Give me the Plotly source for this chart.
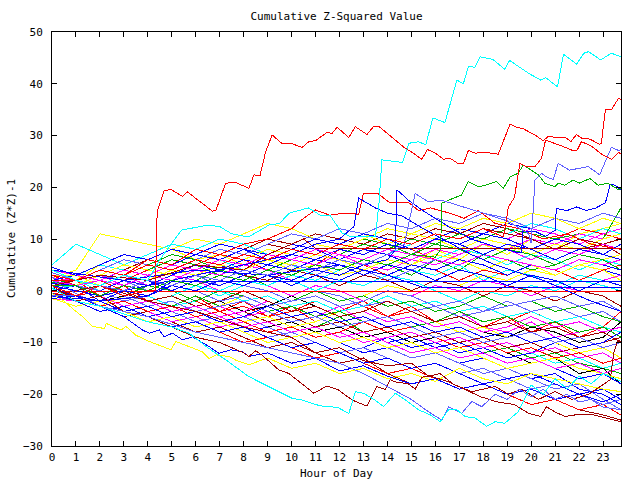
import plotly.graph_objects as go

# ---------------- data ----------------
HOURS = [0, 1, 2, 3, 4, 5, 6, 7, 8, 9, 10, 11, 12, 13, 14, 15, 16, 17, 18, 19, 20, 21, 22, 23, 23.75]
X_TICKS = list(range(0, 24))
Y_TICKS = [-30, -20, -10, 0, 10, 20, 30, 40, 50]

COLORS = {
    "red": "#ff0000", "green": "#00b000", "blue": "#0000ff", "magenta": "#ff00ff",
    "cyan": "#00ffff", "darkred": "#a00000", "yellow": "#ffff00", "black": "#000000",
    "peri": "#6060ff",
}

# hourly series (values at HOURS)
RED_SERIES = [
    [1, 2, -1, 1, -2, -3, -1, -4, -2, -5, -3, -6, -4, -2, -5, -3, -6, -4, -7, -5, -8, -6, -9, -7, -8],
    [2, 1, 3, 2, 4, 6, 5, 7, 6, 4, 6, 5, 8, 7, 9, 8, 6, 8, 7, 9, 8, 10, 12, 11, 10],
    [-1, -1, 0, -2, -1, -3, -2, -4, -3, -5, -4, -2, -4, -3, -5, -4, -6, -5, -7, -6, -4, -6, -5, -7, -4],
    [0.5, -2, -4, -3, -5, -7, -6, -8, -10, -9, -11, -13, -12, -14, -16, -15, -17, -19, -18, -20, -22, -21, -23, -22, -24],
    [3, 1, 2, 0, 2, 1, 3, 2, 4, 3, 5, 4, 6, 5, 3, 5, 4, 2, 4, 3, 5, 4, 2, 4, 5],
    [-0.5, -1, -3, -2, -4, -3, -5, -4, -6, -8, -7, -9, -8, -6, -8, -7, -9, -11, -10, -12, -11, -13, -12, -14, -13],
]
GREEN_SERIES = [
    [0.5, -1, 1, 3, 2, 0, 2, 4, 3, 1, 3, 5, 4, 6, 5, 3, 6, 4, 7, 6, 4, 5, 7, 6, 5],
    [-1, -2, -1, -3, -5, -4, -6, -5, -7, -6, -8, -7, -5, -8, -10, -9, -11, -10, -12, -11, -13, -12, -14, -15, -16],
    [2, 1, 3, 5, 4, 6, 5, 3, 5, 4, 6, 8, 7, 9, 8, 10, 9, 11, 10, 12, 11, 10, 11, 10, 16],
    [1.5, 2, 1, -1, 1, 0, -2, 0, -1, -3, -2, 0, -2, -1, -3, -2, -4, -3, -1, -3, -2, -4, -3, -5, -6],
    [-0.5, -1, -3, -2, -4, -3, -1, -3, -2, -4, -3, -5, -4, -6, -5, -7, -6, -4, -6, -5, -7, -6, -8, -7, -9],
    [3, 2, 4, 3, 5, 7, 6, 4, 6, 5, 7, 6, 8, 10, 9, 7, 9, 8, 6, 8, 7, 5, 7, 6, 4],
]
BLUE_SERIES = [
    [1, 1, -2, -4, -3, -5, -4, -6, -8, -7, -9, -8, -10, -12, -11, -13, -12, -14, -13, -15, -17, -16, -19, -20, -22],
    [3, 2, 4, 3, 5, 4, 6, 5, 3, 5, 4, 6, 8, 10, 9, 11, 10, 12, 11, 13, 12, 14, 13, 15, 14],
    [0, 1, -1, 0, -2, -1, -3, -5, -4, -6, -5, -7, -6, -8, -10, -9, -11, -10, -12, -14, -13, -15, -17, -16, -18],
    [-1.5, -2, -1, -3, -5, -4, -6, -8, -7, -9, -8, -10, -12, -11, -9, -11, -10, -12, -11, -13, -12, -10, -12, -11, -13],
    [2, 3, 2, 4, 3, 5, 7, 6, 8, 7, 9, 8, 6, 8, 7, 5, 7, 6, 4, 6, 5, 3, 5, 4, 3],
    [0.5, -1, 1, 0, 2, 1, 3, 2, 4, 3, 1, 3, 2, 4, 3, 5, 4, 6, 5, 3, 5, 4, 6, 5, 4],
    [1.5, 1, 0, 2, 1, 3, 5, 4, 6, 5, 7, 6, 8, 7, 9, 8, 10, 9, 11, 10, 8, 10, 9, 7, 6],
    [4, 2, 1, 3, 2, 0, 2, 1, 3, 5, 4, 6, 5, 3, 5, 4, 2, 4, 3, 1, 3, 2, 0, 2, 1],
    [-1, -1, -2, -4, -3, -5, -4, -6, -5, -3, -5, -4, -6, -5, -7, -6, -8, -7, -9, -8, -10, -9, -11, -10, -8],
    [-0.5, -2, -4, -3, -5, -7, -6, -8, -7, -9, -11, -10, -12, -14, -13, -15, -14, -16, -18, -17, -16, -18, -20, -19, -21],
    [4.5, 3, 5, 7, 6, 8, 7, 9, 8, 6, 8, 10, 9, 11, 10, 8, 10, 9, 7, 9, 8, 6, 8, 7, 9],
]
MAGENTA_SERIES = [
    [-1, -1, -2, -1, -3, -2, -4, -3, -5, -4, -6, -5, -3, -6, -5, -7, -6, -4, -7, -8, -6, -9, -8, -7, -9],
    [0.5, 1, 0, 2, 1, 3, 2, 0, 2, 1, 3, 5, 4, 6, 5, 7, 10, 9, 11, 10, 12, 11, 9, 11, 12],
    [2.5, 2, 3, 1, 3, 2, 4, 3, 5, 4, 2, 4, 3, 5, 4, 6, 5, 7, 9, 8, 10, 9, 11, 10, 11],
    [0, -1, -3, -2, -4, -6, -5, -7, -6, -8, -7, -9, -8, -10, -9, -8, -10, -9, -11, -10, -12, -11, -13, -12, -14],
    [3.5, 2, 4, 3, 1, 3, 2, 0, 2, 1, -1, 1, 0, -2, 0, -1, 1, 0, 2, 1, -1, 1, 0, 2, 3],
    [-1.5, -2, -1, -3, -2, -4, -3, -5, -4, -2, -4, -3, -5, -4, -6, -5, -7, -6, -8, -7, -5, -7, -6, -8, -7],
    [1, 1, 2, 4, 3, 5, 4, 6, 5, 7, 6, 8, 7, 5, 7, 6, 8, 7, 9, 8, 6, 8, 7, 9, 8],
    [2, 1, -1, -3, -2, -4, -3, -5, -7, -6, -8, -7, -9, -8, -10, -12, -11, -13, -12, -14, -13, -15, -14, -16, -15],
    [4, 3, 2, 1, 3, 2, 4, 6, 5, 7, 6, 5, 7, 6, 8, 7, 6, 5, 7, 6, 5, 4, 6, 5, 6],
]
CYAN_SERIES = [
    [2, 3, 5, 4, 6, 5, 7, 6, 4, 6, 5, 3, 5, 4, 2, 4, 3, 5, 2, 4, 3, 1, 3, 2, 3],
    [-1, -1, -3, -2, -4, -3, -5, -7, -6, -8, -7, -9, -8, -10, -9, -11, -10, -12, -11, -13, -12, -14, -13, -15, -14],
    [1, 2, 0, -2, -1, -3, -2, 0, -2, -1, -3, -2, -4, -3, -1, -3, -2, -4, -3, -5, -4, -6, -5, -7, -8],
    [5, 9, 7, 5, 7, 9, 8, 10, 9, 7, 9, 8, 6, 8, 7, 9, 11, 10, 12, 11, 13, 12, 10, 12, 11],
    [0.5, 1, -1, 0, -2, -1, 1, 0, 2, 1, 3, 2, 4, 6, 5, 7, 6, 8, 7, 5, 7, 6, 4, 6, 5],
    [-0.5, -2, -1, 1, 0, 2, 1, -1, 1, 3, 2, 0, 2, 1, 3, 2, 0, -2, 0, -1, 1, 0, 2, 1, 0],
]
DARKRED_SERIES = [
    [-0.5, -2, -3, -5, -4, -6, -8, -7, -9, -11, -10, -12, -14, -13, -16, -18, -17, -19, -18, -20, -22, -21, -23, -24, -25],
    [3, 3, 2, 4, 6, 5, 7, 6, 8, 10, 9, 11, 10, 9, 11, 10, 12, 11, 13, 12, 10, 9, 8, 9, 7],
    [1, 1, -1, -3, -2, -4, -3, -5, -4, -6, -5, -7, -6, -8, -7, -9, -8, -10, -9, -11, -10, -12, -11, -10, -9],
    [-1, -1, 1, 3, 2, 4, 6, 5, 7, 9, 8, 7, 9, 8, 10, 9, 11, 10, 12, 11, 10, 8, 10, 9, 10],
    [2, 2, 1, 3, 2, 0, 2, 1, 3, 2, 4, 3, 1, 3, 2, 0, 2, 1, -1, 1, 0, -2, 0, -1, -3],
    [0, -1, -2, 0, -2, -1, -3, -2, 0, -2, -4, -3, -5, -4, -2, -4, -6, -5, -7, -6, -8, -7, -9, -8, -10],
]
YELLOW_SERIES = [
    [2.5, 4, 11, 10, 9, 8, 6, 7, 5, 6, 4, 5, 3, 4, 6, 5, 8, 6, 9, 7, 10, 8, 11, 12, 13],
    [-1, -2, -3, -1, -3, -2, -4, -3, -1, -3, -2, 0, -2, -1, 1, 0, 2, 1, 3, 2, 4, 3, 5, 6, 7],
    [1.5, 2, 5, 7, 6, 8, 10, 9, 11, 13, 12, 10, 12, 11, 9, 11, 10, 8, 10, 9, 7, 9, 8, 10, 11],
    [0, -1, -3, -2, -4, -3, -5, -4, -6, -5, -7, -6, -4, -6, -5, -7, -6, -8, -7, -9, -8, -10, -12, -11, -13],
    [3, 3, 1, 3, 2, 4, 3, 5, 4, 6, 5, 7, 6, 4, 6, 5, 7, 6, 4, 6, 5, 3, 5, 4, 2],
    [1, 1, 3, 5, 4, 3, 5, 4, 6, 8, 7, 9, 8, 10, 12, 11, 13, 12, 14, 13, 15, 14, 12, 14, 13],
    [-1.5, -3, -2, -4, -6, -5, -7, -6, -8, -10, -9, -8, -10, -9, -11, -10, -12, -11, -13, -15, -14, -13, -15, -16, -17],
]
BLACK_SERIES = [
    [0.5, -1, 1, 0, -2, -1, -3, -2, -4, -3, -1, -3, -5, -4, -6, -5, -7, -6, -8, -9, -7, -8, -10, -9, -6],
    [-1, -1, -2, -1, -3, -2, -4, -6, -5, -7, -6, -8, -7, -9, -8, -10, -9, -11, -10, -12, -14, -13, -16, -15, -18],
]
PERI_SERIES = [
    [1.5, 2, 1, 3, 2, 4, 3, 1, 3, 2, 4, 3, 5, 4, 2, 4, 6, 5, 7, 9, 8, 10, 12, 14, 13],
    [0, -1, -2, -4, -3, -5, -4, -6, -5, -7, -9, -8, -10, -9, -11, -13, -12, -14, -16, -15, -17, -19, -18, -21, -23],
    [2.5, 1, 3, 2, 0, 2, 1, -1, 1, 0, -2, 0, -1, -3, -2, -4, -3, -5, -4, -2, -4, -3, -5, -4, -6],
    [-1, -2, -1, -3, -2, -4, -6, -5, -7, -9, -8, -10, -12, -11, -13, -15, -14, -16, -15, -17, -19, -18, -20, -22, -21],
    [3.5, 2, 4, 6, 5, 7, 6, 8, 7, 9, 11, 10, 12, 11, 13, 12, 14, 13, 15, 14, 12, 14, 13, 15, 14],
    [0.5, -1, 1, -1, -3, -2, -4, -3, -2, -4, -6, -5, -7, -6, -5, -7, -9, -8, -10, -9, -8, -10, -9, -11, -10],
    [1, 1, 0, -2, -1, 1, 0, -2, -1, -3, -2, -1, -3, -2, 0, -1, -3, -2, -4, -3, -2, -1, -3, -2, -4],
]

# individually traced series (hour, value)
CYAN_TOP_X = [0, 1, 2, 3, 4, 4.5, 5.4, 6.5, 7.0, 7.5, 8.2, 9.06, 9.5, 9.9, 10.7, 11.2, 11.6, 12.1, 12.5, 13.5,
              13.65, 13.77, 14.63, 14.9, 15.3, 15.6, 15.9, 16.4, 16.9, 17.17, 17.38, 17.66, 17.87, 18.4, 18.9,
              19.1, 19.9, 20.4, 20.6, 21.1, 21.35, 21.9, 22.2, 22.4, 22.9, 23.35, 23.75]
CYAN_TOP_Y = [4, 2, 1, 3, 2, 6, 11.7, 12.7, 12.4, 11, 10.4, 12.7, 13, 15, 16, 14.6, 14.6, 11.2, 10.4, 10.4,
              17, 25.3, 24.8, 28.5, 28.8, 28.2, 33.4, 32.5, 40.7, 40, 43.3, 43.2, 45.2, 44.7, 42.8,
              44.5, 42, 40.7, 41.2, 39.4, 45.7, 43.8, 45.9, 46.2, 44.6, 45.9, 45.2]

RED_TOP_X = [0, 1, 2, 3, 4, 4.31, 4.39, 4.68, 4.96, 5.45, 5.65, 6.69, 6.84, 7.25, 7.67, 8.22, 8.43, 8.68, 8.92,
             9.19, 9.61, 9.96, 10.44, 10.72, 11.0, 11.48, 11.69, 11.9, 12.39, 12.66, 13.15, 13.43, 13.63, 13.98,
             14.75, 14.95, 15.44, 15.67, 16.0, 16.34, 16.62, 16.97, 17.17, 17.38, 17.66, 18.14, 18.63, 19.12,
             19.33, 19.67, 20.16, 20.5, 20.71, 21.13, 21.41, 21.66, 21.89, 22.1, 22.45, 22.86, 22.93, 23.1,
             23.35, 23.65, 23.75]
RED_TOP_Y = [1, -1, 1, -1, 0, 0, 15.3, 19.3, 19.6, 18.2, 19.1, 15.4, 15.5, 20.8, 20.9, 19.8, 22.4, 22.2, 26.9,
             30.1, 28.4, 28.5, 27.7, 28.8, 29, 30.6, 30.4, 31.6, 29.6, 31.7, 30.2, 31.8, 31.8, 30.4,
             27.5, 27.0, 25.4, 27.3, 26.6, 25.4, 25.6, 24.5, 24.5, 27.1, 26.6, 26.7, 26.4, 32.2,
             31.7, 31.3, 30.1, 29, 29.8, 29.6, 29.7, 28.8, 30.2, 29.5, 29.3, 28.3, 28.5, 35.1,
             35, 37.2, 37]

RED_B_X = [0, 1, 2, 3, 4, 5, 6, 7, 8, 9, 10, 11, 12, 13, 14, 15, 16, 17, 18, 18.85, 19.05, 19.3, 19.45, 19.53,
           19.74, 20.16, 20.43, 20.6, 21.27, 21.68, 21.9, 22.1, 22.5, 23.0, 23.35, 23.65, 23.75]
RED_B_Y = [2, 2, 1, 3, 5, 4, 6, 5, 7, 6, 8, 7, 9, 8, 10, 9, 11, 10, 12, 10.4, 16.2, 18, 22, 24.6,
           24.1, 24, 25.6, 29.1, 28, 27.2, 27, 28.8, 28, 26.2, 25.4, 26.7, 26.5]

PERI_TOP_X = [0, 1, 2, 3, 4, 5, 6, 7, 8, 9, 10, 11, 12, 13, 14, 14.7, 15.16, 15.7, 16.26, 17, 18, 19, 19.9, 20.0,
              20.16, 20.43, 20.64, 20.92, 21.13, 21.6, 22.38, 22.86, 23.35, 23.65, 23.75]
PERI_TOP_Y = [-1, -1, 1, 0, 2, 1, 3, 2, 4, 3, 5, 4, 6, 5, 7, 9, 18.8, 17.2, 17.5, 16.5, 15, 13.5, 11, 9.2,
              21.4, 22.7, 22, 21.5, 24.6, 23.3, 24, 22.4, 27.7, 27.1, 27.3]

GREEN_TOP_X = [0, 1, 2, 3, 4, 5, 6, 7, 8, 9, 10, 11, 12, 13, 14, 15, 16, 16.22, 16.27, 16.55, 17.1, 17.38, 17.8,
               18.08, 18.56, 18.84, 19.12, 19.46, 19.67, 20.3, 20.57, 20.99, 21.13, 21.41, 21.75, 22.03, 22.45,
               22.79, 23.2, 23.65, 23.75]
GREEN_TOP_Y = [1, 1, -1, 1, 0, 2, 1, 3, 2, 4, 3, 5, 4, 6, 5, 7, 6.5, 8, 16.9, 17.5, 18.5, 21.1, 20.1,
               20.4, 21.1, 19.8, 22, 22.7, 24.3, 22.4, 20.8, 20.1, 20.8, 20.4, 21.4, 20.8, 21.7,
               20.4, 20.8, 19.5, 19.8]

BLUE_TOP_X = [0, 1, 2, 3, 4, 5, 6, 7, 8, 9, 10, 11, 12, 13, 14, 14.33, 14.4, 14.88, 15.44, 16.0, 16.55, 17.5,
              18.5, 19.5, 19.6, 19.65, 20.2, 20.6, 21.0, 21.05, 21.5, 21.9, 22.3, 22.7, 23.1, 23.3, 23.5, 23.75]
BLUE_TOP_Y = [-1.5, -1, -2, 0, -1, 1, 0, 2, 1, 3, 2, 4, 3, 5, 6, 7.9, 19.5, 17.5, 15.6, 14, 12.4, 10,
              8.5, 7.3, 7.3, 11.4, 11.4, 10.5, 11.7, 15.9, 15.5, 16.2, 15.5, 16, 17, 20.6, 20.4, 19.5]

RED_MID_X = [0, 1, 2, 3, 4, 5, 6, 7, 8, 9, 10, 10.5, 11.0, 11.6, 12.2, 12.8, 13.0, 13.6, 14.1, 14.9, 15.3,
             15.8, 16.6, 17.2, 17.8, 18.5, 19.5, 20.5, 21.5, 22.5, 23.75]
RED_MID_Y = [3, 2, 4, 3, 6, 5, 8, 7, 9, 10, 12, 14, 15.6, 14.6, 15, 14.8, 18.8, 18.8, 17, 17, 15.5,
             16, 15, 14, 15.5, 13, 12, 10, 11, 9, 8]

BLUE_MID_X = [0, 2, 4, 6, 8, 10, 11, 12, 12.6, 12.8, 13.5, 14, 14.6, 15.5, 16.5, 17.5, 18.5, 19.5, 20.5, 21.5,
              22.5, 23.75]
BLUE_MID_Y = [1, -1, 1, 3, 5, 7, 9, 10, 12.4, 17.9, 16, 15, 14.5, 12, 9.5, 7, 5, 3.5, 2, 0, -2, -4]

CYAN_BOT_X = [0, 1, 2, 3, 4, 5, 5.72, 6.5, 7.3, 8.22, 10.03, 10.44, 11.0, 11.42, 11.9, 12.39, 12.66, 13.0, 13.5,
              13.84, 14.33, 14.75, 15.3, 15.79, 16.2, 16.55, 16.9, 17.24, 17.66, 18.14, 18.5, 18.9, 19.46, 20.0,
              20.5, 21.0, 21.5, 22.0, 22.5, 23.0, 23.75]
CYAN_BOT_Y = [0.5, -2, -3, -4.5, -6, -7, -8.2, -11, -13.5, -16.6, -20.8, -21.1, -22, -22.4, -22.5, -23.7, -19.5,
              -19.8, -21.2, -22.4, -19.8, -21.1, -23, -24, -25.3, -23, -23, -24.3, -24.6, -26.2, -25.3, -25.6,
              -23.4, -18.2, -20, -17, -19, -16.5, -18, -16, -17.5]

YELLOW_BOT_X = [0, 0.5, 1.0, 1.28, 1.7, 2.19, 2.26, 2.88, 3.09, 3.5, 4.06, 4.61, 4.96, 5.17, 5.72, 6.28, 6.56,
                6.84, 7.39, 7.67, 8.22, 9, 10, 11, 12, 13, 14, 15, 16, 17, 18, 19, 20, 21, 22, 23, 23.75]
YELLOW_BOT_Y = [-0.5, -2, -4, -5, -6.9, -7.3, -6.3, -7.6, -6.9, -8.6, -9.8, -10.8, -11.4, -9.8, -10.8, -11.8,
                -13.1, -12.4, -12.7, -13.4, -14.3, -13, -15, -14, -16, -15, -17, -16, -17.5, -15, -17, -18,
                -16, -17, -18, -19, -19.5]

BLUE_BOT_X = [0, 1, 2, 3, 3.78, 4.06, 4.48, 4.68, 5.03, 5.45, 5.86, 6.56, 6.97, 7.46, 7.94, 8.22, 9, 10, 11, 12,
              13, 14, 15, 16, 17, 18, 19, 20, 21, 22, 23, 23.75]
BLUE_BOT_Y = [0.5, -1, -3, -5, -7.6, -8.2, -7.6, -8.9, -8.2, -9.5, -8.9, -10.8, -12.1, -11.4, -11.8, -12.7, -12,
              -14, -13, -15.5, -14.5, -16.5, -18, -17, -19, -18, -20, -19, -21, -20, -21.5, -20]

DARKRED_BOT_X = [0, 1, 2, 3, 4, 5, 6, 7, 8, 8.22, 8.5, 8.78, 9.47, 9.89, 10.44, 10.93, 11.48, 11.97, 12.52,
                 13.15, 13.56, 13.91, 14.12, 14.33, 14.88, 15.16, 15.44, 15.79, 16.55, 17.2, 17.9, 18.6, 19.3,
                 19.9, 20.4, 20.64, 20.99, 21.41, 21.96, 22.51, 23.2, 23.75]
DARKRED_BOT_Y = [1, -2, -1, -4, -5, -7, -9, -10, -12, -12.7, -11.6, -12.5, -15.3, -16, -18, -19.8, -18.4,
                 -19.2, -21.1, -22.3, -18.5, -19.1, -17.2, -17.6, -18, -19, -16.7, -16.5, -17.6, -19, -20.5,
                 -21.5, -22, -23.7, -24.3, -22.4, -23.4, -24.3, -23.9, -23.9, -24.6, -25.3]

DARKRED_END_X = [0, 2, 4, 6, 8, 10, 11, 12, 13, 14, 15, 15.72, 16.2, 16.76, 17.52, 18.5, 19.05, 19.6, 20.3, 21,
                 21.7, 22.4, 23.3, 23.45, 23.63, 23.75]
DARKRED_END_Y = [-1, 1, -2, -4, -7, -9, -12, -11, -13.5, -14.5, -14, -16.5, -16, -18.1, -19.5, -18.5, -20, -19,
                 -21, -19.5, -21, -20, -17.2, -12, -9.5, -10]

PERI_BOT_X = [0, 2, 4, 6, 8, 10, 12, 13, 14, 15, 15.72, 16.27, 16.55, 17.1, 17.52, 17.94, 18.5, 19, 19.5, 20,
              20.5, 21, 21.5, 22, 22.5, 23, 23.75]
PERI_BOT_Y = [2, -3, -5, -8, -10, -12, -14, -16, -18.5, -21, -23.4, -25, -22.4, -23.7, -21.4, -22.4, -20, -21,
              -19, -20.5, -19, -21, -20, -21.5, -21, -22.5, -23]

RED_FLAT_X = [0, 23.75]
RED_FLAT_Y = [-0.2, -0.2]
DARKRED_FLAT_X = [0, 2, 4, 6, 8, 9, 10, 10.5, 11, 23.75]
DARKRED_FLAT_Y = [1, 3, 2, 5, 4, 7, 9, 10, 8.2, 8.2]
BLUE_FLAT1_X = [0, 2, 4, 5, 23.75]
BLUE_FLAT1_Y = [-1, -2, -1, 1.75, 1.75]
BLUE_FLAT2_X = [0, 3, 6, 9, 12, 14, 15.5, 23.75]
BLUE_FLAT2_Y = [4, 2, 4, 3, 5, 3, 0.6, 0.6]

# ---------------- figure ----------------
fig = go.Figure()


def add_line(xs, ys, color):
    fig.add_trace(go.Scatter(x=xs, y=ys, mode="lines",
                             line=dict(color=color, width=1),
                             hoverinfo="skip", showlegend=False))


groups = [("red", RED_SERIES), ("green", GREEN_SERIES), ("blue", BLUE_SERIES),
          ("magenta", MAGENTA_SERIES), ("cyan", CYAN_SERIES), ("darkred", DARKRED_SERIES),
          ("yellow", YELLOW_SERIES), ("black", BLACK_SERIES), ("peri", PERI_SERIES)]
maxlen = max(len(g[1]) for g in groups)
for i in range(maxlen):
    for cname, series in groups:
        if i < len(series):
            add_line(HOURS, series[i], COLORS[cname])

featured = [
    (RED_FLAT_X, RED_FLAT_Y, "red"),
    (BLUE_FLAT1_X, BLUE_FLAT1_Y, "blue"),
    (BLUE_FLAT2_X, BLUE_FLAT2_Y, "blue"),
    (DARKRED_FLAT_X, DARKRED_FLAT_Y, "darkred"),
    (YELLOW_BOT_X, YELLOW_BOT_Y, "yellow"),
    (BLUE_BOT_X, BLUE_BOT_Y, "blue"),
    (DARKRED_BOT_X, DARKRED_BOT_Y, "darkred"),
    (DARKRED_END_X, DARKRED_END_Y, "darkred"),
    (PERI_BOT_X, PERI_BOT_Y, "peri"),
    (CYAN_BOT_X, CYAN_BOT_Y, "cyan"),
    (RED_MID_X, RED_MID_Y, "red"),
    (BLUE_MID_X, BLUE_MID_Y, "blue"),
    (BLUE_TOP_X, BLUE_TOP_Y, "blue"),
    (GREEN_TOP_X, GREEN_TOP_Y, "green"),
    (PERI_TOP_X, PERI_TOP_Y, "peri"),
    (RED_B_X, RED_B_Y, "red"),
    (RED_TOP_X, RED_TOP_Y, "red"),
    (CYAN_TOP_X, CYAN_TOP_Y, "cyan"),
]
for xs, ys, cname in featured:
    add_line(xs, ys, COLORS[cname])

FONT = "DejaVu Sans Mono"
axis_common = dict(showline=True, linecolor="black", linewidth=1, mirror="ticks",
                   ticks="inside", ticklen=5, tickcolor="black", tickwidth=1,
                   showgrid=False, zeroline=False,
                   tickfont=dict(family=FONT, size=11, color="black"))

fig.update_layout(
    width=640, height=480, autosize=False,
    margin=dict(l=52, r=19, t=32, b=34, pad=0),
    paper_bgcolor="white", plot_bgcolor="white",
    title=dict(text="Cumulative Z-Squared Value", x=0.5, xref="paper",
               y=1 - 16 / 480, yref="container", yanchor="middle", xanchor="center",
               font=dict(family=FONT, size=11, color="black")),
    xaxis=dict(range=[0, 23.75], tickvals=X_TICKS, ticklabelstandoff=1, **axis_common),
    yaxis=dict(range=[-30, 50], tickvals=Y_TICKS, ticklabelstandoff=6, **axis_common),
    hovermode=False,
    annotations=[
        dict(text="Hour of Day", xref="paper", yref="paper", x=0.5, y=(446 - 473) / 414,
             xanchor="center", yanchor="middle", showarrow=False,
             font=dict(family=FONT, size=11, color="black")),
        dict(text="Cumulative (Z*Z)-1", xref="paper", yref="paper", x=(11 - 52) / 569, y=0.5,
             xanchor="center", yanchor="middle", showarrow=False, textangle=-90,
             font=dict(family=FONT, size=11, color="black")),
    ],
)

CRISP_JS = ("var s=document.createElement('style');"
            "s.innerHTML='.js-line{shape-rendering:crispEdges;}';"
            "document.head.appendChild(s);")
fig.write_html("out.html", config={"displayModeBar": False}, post_script=CRISP_JS)
